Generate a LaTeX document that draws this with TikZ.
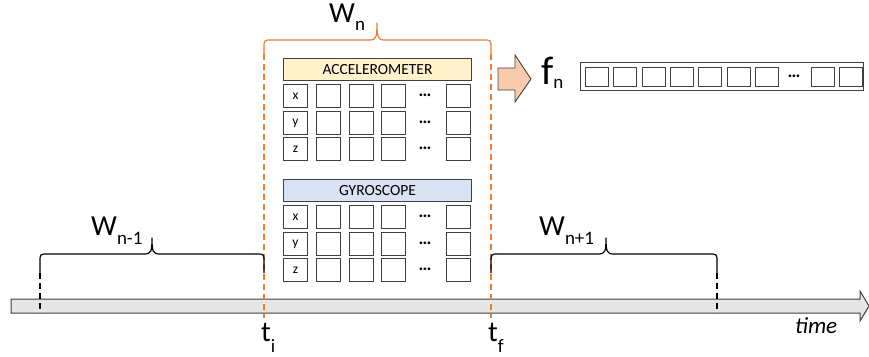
\documentclass[tikz,border=0pt]{standalone}
\usepackage{fontspec}
\setmainfont{Carlito}
\definecolor{edge}{HTML}{3F3F3F}
\definecolor{winorange}{HTML}{ED7D31}
\definecolor{accfill}{HTML}{FFF2CC}
\definecolor{gyrofill}{HTML}{DAE3F3}
\definecolor{arrowfill}{HTML}{F8CBAD}
\definecolor{barfill}{HTML}{E7E6E6}
% curly brace: x1, x2, tip x, brace y, tip y, end y
\newcommand\drawbrace[7][]{%
  \draw[#1] (#2,#7) -- (#2,#5+8) .. controls (#2,#5) .. (#2+8,#5)
    -- (#4-8,#5) .. controls (#4-1,#5) and (#4,#5-2) .. (#4,#6)
    .. controls (#4,#5-2) and (#4+1,#5) .. (#4+8,#5)
    -- (#3-8,#5) .. controls (#3,#5) .. (#3,#5+8) -- (#3,#7);}
\begin{document}
\begin{tikzpicture}[x=1pt,y=-1pt,
  cell/.style={draw=edge,line width=1pt,fill=white,minimum width=24pt,minimum height=23pt,inner sep=0pt,anchor=north west,font=\fontsize{13.5}{13.5}\selectfont},
  header/.style={draw=edge,line width=1pt,minimum width=188pt,minimum height=22pt,inner sep=0pt,anchor=north west,font=\fontsize{15.5}{15.5}\selectfont},
  vcell/.style={draw=edge,line width=0.9pt,fill=white,minimum width=23pt,minimum height=19pt,inner sep=0pt,anchor=north west},
  dots/.style={font=\fontsize{18}{18}\selectfont,inner sep=0pt},
  lbl/.style={anchor=base west,inner sep=0pt,font=\fontsize{29}{29}\selectfont},
  winline/.style={draw=winorange,line width=1.5pt,dash pattern=on 6pt off 4pt},
  bndline/.style={draw=black,line width=1.3pt,dash pattern=on 6pt off 4pt},
  bracestyle/.style={line width=1.2pt,line join=round},
]
\useasboundingbox (0,0) rectangle (869,356);

% time axis
\draw[edge,line width=1pt,fill=barfill] (11,299) -- (860,299) -- (860,291) -- (869,306)
  -- (860,321) -- (860,313) -- (11,313) -- cycle;
\node[anchor=base west,inner sep=0pt,font=\fontsize{23}{23}\selectfont\itshape] (time) at (795,333) {time};

% window boundaries
\draw[winline] (264,54) -- (264,318);
\draw[winline] (491,54) -- (491,318);
\draw[bndline] (40,273) -- (40,313);
\draw[bndline] (717,273) -- (717,313);

% braces
\drawbrace[winorange,bracestyle]{264}{491}{377}{40}{23}{54}
\drawbrace[black,bracestyle]{40}{264}{152}{254}{238}{273}
\drawbrace[black,bracestyle]{491}{717}{606}{254}{238}{273}

% window labels
\node[lbl] (wn) at (329,22) {W\raisebox{-8pt}{\fontsize{19}{19}\selectfont n}};
\node[lbl] (wprev) at (91,235) {W\raisebox{-9pt}{\fontsize{19}{19}\selectfont n-1}};
\node[lbl] (wnext) at (539,235) {W\raisebox{-9pt}{\fontsize{19}{19}\selectfont n+1}};
\node[lbl] (ti) at (261,341) {t\raisebox{-11pt}{\fontsize{19}{19}\selectfont i}};
\node[lbl] (tf) at (488,341) {t\raisebox{-11pt}{\fontsize{19}{19}\selectfont f}};

% sensor tables
\node[header,fill=accfill] (acc) at (283,58) {ACCELEROMETER};
\node[header,fill=gyrofill] (gyro) at (283,179) {GYROSCOPE};
\foreach \s/\ys in {acc/84,gyro/205}{
  \foreach \r/\ax [count=\i] in {0/x,27/y,53/z}{
    \node[cell] (\s-\i-0) at (283,\ys+\r) {\ax};
    \foreach \cx [count=\j] in {316,349,381,446}
      \node[cell] (\s-\i-\j) at (\cx,\ys+\r) {};
    \node[dots] (\s-\i-dots) at (425,\ys+\r+11) {\textbf{…}};
  }
}

% feature extraction arrow
\draw[edge,line width=0.9pt,fill=arrowfill] (498,68) -- (515,68) -- (515,55) -- (531,79)
  -- (515,102) -- (515,90) -- (498,90) -- cycle;
\node[anchor=base west,inner sep=0pt,font=\fontsize{40}{40}\selectfont] (fn) at (541,84)
  {f\raisebox{-4pt}{\fontsize{19}{19}\selectfont n}};

% feature vector
\node[draw=edge,line width=1pt,minimum width=283pt,minimum height=28pt,inner sep=0pt,anchor=north west] (vec) at (580,62) {};
\foreach \k in {0,...,6}
  \node[vcell] (v-\k) at (585+28.3*\k,67) {};
\node[dots] (v-dots) at (794,76) {\textbf{…}};
\node[vcell] (v-7) at (811,67) {};
\node[vcell] (v-8) at (839,67) {};
\end{tikzpicture}
\end{document}
